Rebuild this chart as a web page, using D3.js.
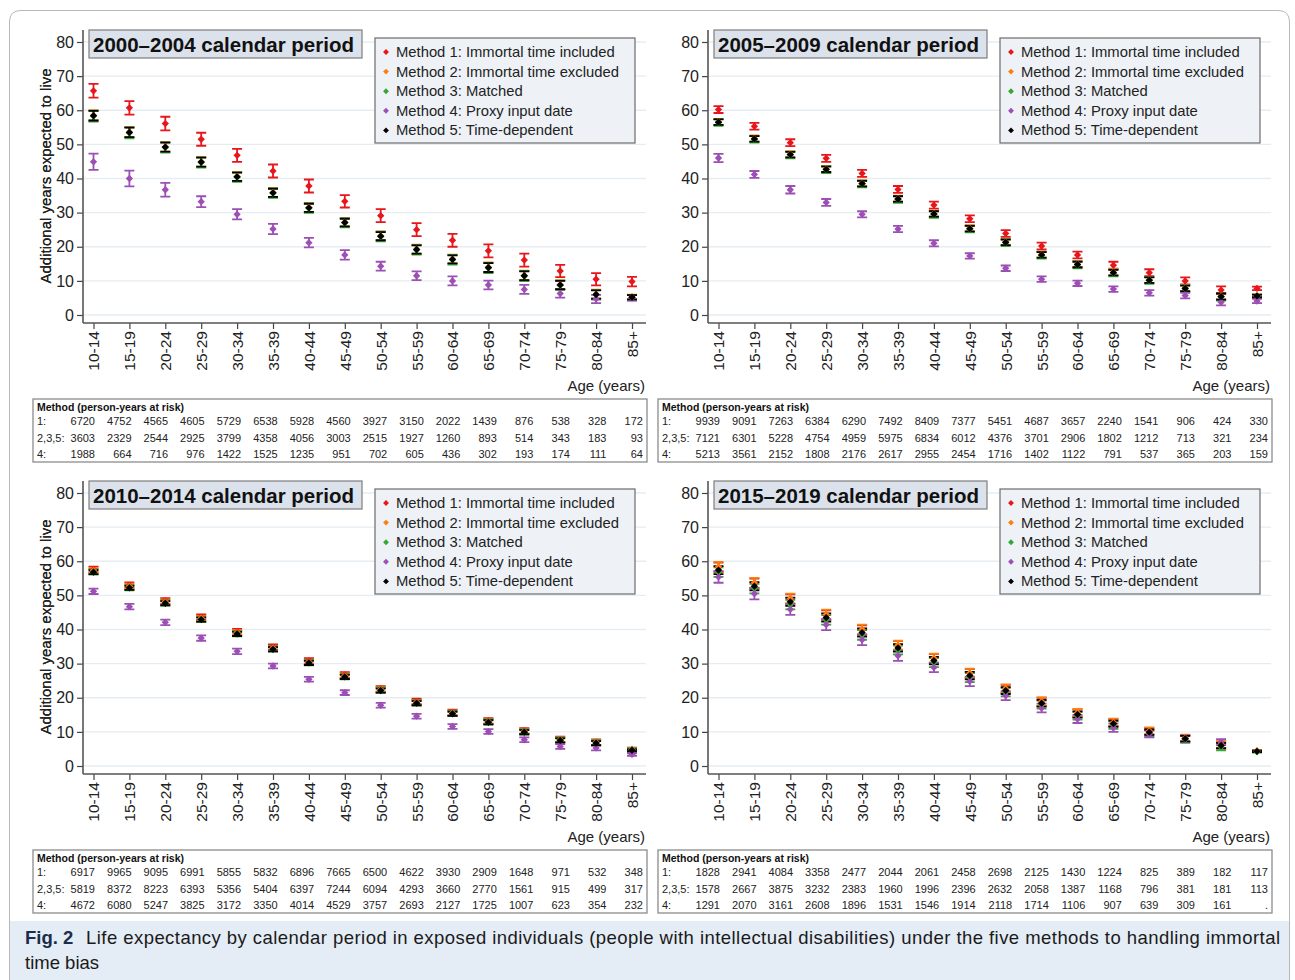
<!DOCTYPE html>
<html>
<head>
<meta charset="utf-8">
<script src="https://cdn.jsdelivr.net/npm/d3@7"></script>
<style>
  body { margin: 0; background: #fff; }
  svg { display: block; }
  text { font-family: "Liberation Sans", Arial, Helvetica, sans-serif; }
</style>
</head>
<body>
<svg id="fig" width="1295" height="980"></svg>
<script>
// ---- categories and labels ----
const ageGroups = ["10-14","15-19","20-24","25-29","30-34","35-39","40-44","45-49",
                   "50-54","55-59","60-64","65-69","70-74","75-79","80-84","85+"];
const methodLabels = ["Method 1: Immortal time included","Method 2: Immortal time excluded",
                      "Method 3: Matched","Method 4: Proxy input date","Method 5: Time-dependent"];
const methodColors = ["#e8161b","#ff7f0e","#38a636","#9c4fb4","#000000"];
const yTicks = [0,10,20,30,40,50,60,70,80];
const riskRowLabels = ["1:","2,3,5:","4:"];

// ---- 2000–2004: estimates and 95% CI half-widths ----
const est2000_m1 = [65.7,60.7,56.1,51.5,46.8,42.2,37.8,33.3,29.1,25.0,21.9,18.8,16.1,12.9,10.5,9.8];
const est2000_m2 = [58.5,53.6,49.3,44.9,40.6,35.9,31.5,27.2,23.2,19.3,16.4,14.0,11.6,8.9,6.1,5.3];
const est2000_m3 = [58.3,53.4,49.1,44.7,40.4,35.7,31.3,27.0,23.0,19.1,16.2,13.8,11.4,8.7,5.9,5.1];
const est2000_m4 = [44.9,40.0,36.7,33.2,29.5,25.2,21.2,17.6,14.3,11.5,10.0,8.8,7.5,6.3,4.7,5.0];
const est2000_m5 = [58.4,53.5,49.2,44.8,40.5,35.8,31.4,27.1,23.1,19.2,16.3,13.9,11.5,8.8,6.0,5.2];
const ci2000_m1  = [2.0,2.0,2.0,1.9,1.9,1.9,1.9,1.8,1.9,1.9,1.9,1.9,1.9,1.8,1.8,1.4];
const ci2000_m2  = [1.5,1.5,1.4,1.4,1.3,1.3,1.3,1.2,1.3,1.3,1.3,1.4,1.4,1.3,1.3,0.7];
const ci2000_m3  = [1.6,1.6,1.5,1.5,1.4,1.4,1.4,1.3,1.4,1.4,1.4,1.5,1.5,1.4,1.4,0.8];
const ci2000_m4  = [2.4,2.3,2.0,1.6,1.5,1.5,1.4,1.4,1.3,1.3,1.3,1.3,1.3,1.2,1.2,0.8];
const ci2000_m5  = [1.4,1.4,1.3,1.3,1.2,1.2,1.2,1.1,1.2,1.2,1.2,1.3,1.3,1.2,1.2,0.6];

// ---- 2005–2009 ----
const est2005_m1 = [60.2,55.3,50.5,45.9,41.5,36.8,32.2,28.2,23.9,20.2,17.6,14.6,12.4,10.0,7.3,7.8];
const est2005_m2 = [56.6,51.7,47.1,42.8,38.6,34.1,29.7,25.4,21.4,17.7,14.9,12.5,10.3,7.9,5.5,5.6];
const est2005_m3 = [56.4,51.5,46.9,42.6,38.4,33.9,29.5,25.2,21.2,17.5,14.7,12.3,10.1,7.7,5.3,5.5];
const est2005_m4 = [46.0,41.2,36.7,33.0,29.5,25.2,21.0,17.3,13.7,10.5,9.3,7.6,6.5,5.7,3.7,4.1];
const est2005_m5 = [56.5,51.6,47.0,42.7,38.5,34.0,29.6,25.3,21.3,17.6,14.8,12.4,10.2,7.8,5.4,5.6];
const ci2005_m1  = [1.0,1.0,1.0,1.0,1.0,1.0,1.0,1.0,1.0,1.0,1.0,1.0,1.0,1.0,1.1,0.5];
const ci2005_m2  = [0.9,0.9,0.9,0.9,0.9,0.9,0.9,0.9,0.9,0.9,0.9,0.9,0.9,0.9,1.0,0.4];
const ci2005_m3  = [1.0,1.0,1.0,1.0,1.0,1.0,1.0,1.0,1.0,1.0,1.0,1.0,1.0,1.0,1.1,0.5];
const ci2005_m4  = [1.2,1.0,1.1,1.0,0.9,0.9,0.9,0.8,0.8,0.8,0.8,0.8,0.8,0.8,0.9,0.6];
const ci2005_m5  = [0.8,0.8,0.8,0.8,0.8,0.8,0.8,0.8,0.8,0.8,0.8,0.8,0.8,0.8,0.9,0.4];

// ---- 2010–2014 ----
const est2010_m1 = [57.6,53.0,48.4,43.6,39.4,34.8,30.8,26.7,22.6,18.9,15.7,13.2,10.3,7.8,7.0,4.9];
const est2010_m2 = [57.3,52.7,48.1,43.3,39.1,34.5,30.5,26.4,22.4,18.7,15.5,13.0,10.1,7.7,6.9,4.8];
const est2010_m3 = [56.9,52.3,47.8,43.0,38.8,34.3,30.3,26.2,22.2,18.5,15.4,12.9,10.0,7.6,6.8,4.7];
const est2010_m4 = [51.2,46.7,42.1,37.5,33.6,29.3,25.4,21.5,17.8,14.6,11.6,10.1,7.7,5.7,5.3,3.4];
const est2010_m5 = [56.8,52.2,47.7,42.9,38.7,34.2,30.2,26.1,22.1,18.4,15.3,12.8,9.9,7.5,6.7,4.6];
const ci2010_m1  = [0.8,0.8,0.8,0.8,0.8,0.8,0.8,0.8,0.8,0.8,0.8,0.8,0.8,0.8,0.8,0.5];
const ci2010_m2  = [0.7,0.7,0.7,0.7,0.7,0.7,0.7,0.7,0.7,0.7,0.7,0.7,0.7,0.7,0.7,0.4];
const ci2010_m3  = [0.8,0.8,0.8,0.8,0.8,0.8,0.8,0.8,0.8,0.8,0.8,0.8,0.8,0.8,0.8,0.5];
const ci2010_m4  = [0.8,0.8,0.8,0.8,0.8,0.7,0.7,0.7,0.7,0.7,0.7,0.7,0.7,0.7,0.7,0.4];
const ci2010_m5  = [0.6,0.6,0.6,0.6,0.6,0.6,0.6,0.6,0.6,0.6,0.6,0.6,0.6,0.6,0.6,0.3];

// ---- 2015–2019 ----
const est2015_m1 = [58.2,53.5,48.9,44.2,39.8,35.3,31.5,27.1,22.6,18.8,15.5,12.7,10.2,8.1,6.2,4.4];
const est2015_m2 = [58.4,53.7,49.1,44.4,40.0,35.4,31.6,27.2,22.7,18.9,15.6,12.8,10.3,8.2,6.3,4.4];
const est2015_m3 = [56.8,52.0,47.3,42.8,38.4,34.0,30.3,25.9,21.6,18.0,14.7,12.0,9.6,7.8,5.6,4.2];
const est2015_m4 = [55.4,50.5,45.9,41.4,37.0,32.3,28.9,24.8,20.6,17.0,13.8,11.2,9.4,8.0,7.0,null];
const est2015_m5 = [57.4,52.7,48.1,43.5,39.1,34.6,30.9,26.5,22.1,18.4,15.1,12.4,9.9,8.0,6.0,4.3];
const ci2015_m1  = [1.4,1.4,1.4,1.4,1.4,1.3,1.3,1.3,1.2,1.2,1.1,1.1,1.0,1.0,1.0,0.3];
const ci2015_m2  = [1.4,1.4,1.4,1.4,1.4,1.3,1.3,1.3,1.2,1.2,1.1,1.1,1.0,1.0,1.0,0.3];
const ci2015_m3  = [1.4,1.4,1.4,1.4,1.4,1.3,1.3,1.3,1.2,1.2,1.1,1.1,1.0,1.0,1.0,0.3];
const ci2015_m4  = [1.7,1.7,1.6,1.6,1.6,1.5,1.4,1.4,1.3,1.3,1.2,1.2,1.0,1.0,0.9,null];
const ci2015_m5  = [1.2,1.2,1.2,1.2,1.2,1.1,1.1,1.1,1.0,1.0,0.9,0.9,0.8,0.8,0.8,0.2];

// ---- person-years at risk ----
const risk2000_m1  = [6720,4752,4565,4605,5729,6538,5928,4560,3927,3150,2022,1439,876,538,328,172];
const risk2000_m235= [3603,2329,2544,2925,3799,4358,4056,3003,2515,1927,1260,893,514,343,183,93];
const risk2000_m4  = [1988,664,716,976,1422,1525,1235,951,702,605,436,302,193,174,111,64];
const risk2005_m1  = [9939,9091,7263,6384,6290,7492,8409,7377,5451,4687,3657,2240,1541,906,424,330];
const risk2005_m235= [7121,6301,5228,4754,4959,5975,6834,6012,4376,3701,2906,1802,1212,713,321,234];
const risk2005_m4  = [5213,3561,2152,1808,2176,2617,2955,2454,1716,1402,1122,791,537,365,203,159];
const risk2010_m1  = [6917,9965,9095,6991,5855,5832,6896,7665,6500,4622,3930,2909,1648,971,532,348];
const risk2010_m235= [5819,8372,8223,6393,5356,5404,6397,7244,6094,4293,3660,2770,1561,915,499,317];
const risk2010_m4  = [4672,6080,5247,3825,3172,3350,4014,4529,3757,2693,2127,1725,1007,623,354,232];
const risk2015_m1  = [1828,2941,4084,3358,2477,2044,2061,2458,2698,2125,1430,1224,825,389,182,117];
const risk2015_m235= [1578,2667,3875,3232,2383,1960,1996,2396,2632,2058,1387,1168,796,381,181,113];
const risk2015_m4  = [1291,2070,3161,2608,1896,1531,1546,1914,2118,1714,1106,907,639,309,161,null];

const panels = [
  { title: "2000\u20132004 calendar period", col: 0, row: 0,
    est: [est2000_m1,est2000_m2,est2000_m3,est2000_m4,est2000_m5],
    ci:  [ci2000_m1,ci2000_m2,ci2000_m3,ci2000_m4,ci2000_m5],
    risk:[risk2000_m1,risk2000_m235,risk2000_m4] },
  { title: "2005\u20132009 calendar period", col: 1, row: 0,
    est: [est2005_m1,est2005_m2,est2005_m3,est2005_m4,est2005_m5],
    ci:  [ci2005_m1,ci2005_m2,ci2005_m3,ci2005_m4,ci2005_m5],
    risk:[risk2005_m1,risk2005_m235,risk2005_m4] },
  { title: "2010\u20132014 calendar period", col: 0, row: 1,
    est: [est2010_m1,est2010_m2,est2010_m3,est2010_m4,est2010_m5],
    ci:  [ci2010_m1,ci2010_m2,ci2010_m3,ci2010_m4,ci2010_m5],
    risk:[risk2010_m1,risk2010_m235,risk2010_m4] },
  { title: "2015\u20132019 calendar period", col: 1, row: 1,
    est: [est2015_m1,est2015_m2,est2015_m3,est2015_m4,est2015_m5],
    ci:  [ci2015_m1,ci2015_m2,ci2015_m3,ci2015_m4,ci2015_m5],
    risk:[risk2015_m1,risk2015_m235,risk2015_m4] }
];

const svg = d3.select("#fig");

// outer frame and caption band
svg.append("path")
  .attr("d", "M9.5,990 V22 Q9.5,10.5 21,10.5 H1278 Q1289.5,10.5 1289.5,22 V990")
  .attr("fill", "none").attr("stroke", "#b8b8b8").attr("stroke-width", 1);
svg.append("rect").attr("x", 10).attr("y", 921).attr("width", 1279).attr("height", 60)
  .attr("fill", "#e4ecf5");
const capFont = "'Noto Sans', 'Liberation Sans', Arial, sans-serif";
const cap = svg.append("text").attr("x", 25).attr("y", 944)
  .attr("font-size", 18.5).attr("fill", "#1a1a1a").attr("font-family", capFont);
cap.append("tspan").attr("font-weight", "bold").attr("fill", "#1b2d4a").text("Fig. 2");
cap.append("tspan").attr("x", 86).attr("textLength", 1194).attr("lengthAdjust", "spacing")
  .text("Life expectancy by calendar period in exposed individuals (people with intellectual disabilities) under the five methods to handling immortal");
svg.append("text").attr("x", 25).attr("y", 969).attr("font-size", 18.5).attr("fill", "#1a1a1a")
  .attr("font-family", capFont)
  .text("time bias");

const diamond = d3.symbol().type(d3.symbolDiamond2);

panels.forEach(p => {
  const ax = p.col === 0 ? 83 : 708;   // y-axis x position
  const dy = p.row === 0 ? 0 : 451;    // vertical offset of the row
  const plotRight = ax + 563;
  const axisY = 323 + dy;

  const x = d3.scalePoint().domain(ageGroups).range([ax + 10.5, ax + 549]);
  const y = d3.scaleLinear().domain([0, 80]).range([315 + dy, 42 + dy]);

  const g = svg.append("g");

  // gridlines
  g.append("g").selectAll("line").data(yTicks).join("line")
    .attr("x1", ax).attr("x2", plotRight)
    .attr("y1", d => y(d)).attr("y2", d => y(d))
    .attr("stroke", "#e6edf2").attr("stroke-width", 1.3);

  // y axis
  const yAxis = g.append("g").attr("transform", `translate(${ax},0)`)
    .call(d3.axisLeft(y).tickValues(yTicks).tickSize(6).tickPadding(3));
  yAxis.select(".domain").remove();
  yAxis.selectAll(".tick line").attr("stroke", "#444").attr("stroke-width", 1.2);
  yAxis.selectAll(".tick text").attr("font-size", 16).attr("fill", "#222")
    .attr("font-family", "'Liberation Sans', Arial, sans-serif");
  g.append("line").attr("x1", ax).attr("x2", ax).attr("y1", 30 + dy).attr("y2", axisY)
    .attr("stroke", "#555").attr("stroke-width", 1.6);

  // x axis
  const xAxis = g.append("g").attr("transform", `translate(0,${axisY})`)
    .call(d3.axisBottom(x).tickSize(6));
  xAxis.select(".domain").remove();
  xAxis.selectAll(".tick line").attr("stroke", "#444").attr("stroke-width", 1.2);
  xAxis.selectAll(".tick text")
    .attr("transform", "rotate(-90)")
    .attr("x", -8).attr("y", 0).attr("dy", "0.35em")
    .attr("text-anchor", "end")
    .attr("font-size", 15.5).attr("fill", "#222")
    .attr("font-family", "'Liberation Sans', Arial, sans-serif");
  g.append("line").attr("x1", ax).attr("x2", plotRight).attr("y1", axisY).attr("y2", axisY)
    .attr("stroke", "#555").attr("stroke-width", 1.6);

  // axis titles
  g.append("text")
    .attr("transform", `translate(51,${176 + dy}) rotate(-90)`)
    .attr("text-anchor", "middle").attr("font-size", 15).attr("fill", "#222")
    .text("Additional years expected to live");
  g.append("text").attr("x", ax + 562).attr("y", 391 + dy)
    .attr("text-anchor", "end").attr("font-size", 15).attr("fill", "#222")
    .text("Age (years)");

  // panel title box
  g.append("rect").attr("x", ax + 6).attr("y", 30 + dy).attr("width", 273).attr("height", 28)
    .attr("fill", "#dbe2eb").attr("stroke", "#7d7d7d").attr("stroke-width", 1.2);
  g.append("text").attr("x", ax + 10).attr("y", 51.5 + dy)
    .attr("font-size", 20.5).attr("font-weight", "bold").attr("fill", "#111")
    .text(p.title);

  // error bars (drawn in method order), then markers on top
  p.est.forEach((vals, m) => {
    const pts = ageGroups.map((a, i) => ({ a, v: vals[i], c: p.ci[m][i] }))
      .filter(d => d.v != null);
    const eb = g.append("g").attr("stroke", methodColors[m]).attr("stroke-width", 1.8)
      .attr("fill", "none");
    eb.selectAll("path").data(pts).join("path")
      .attr("d", d => {
        const cx = x(d.a), y1 = y(d.v + d.c), y2 = y(d.v - d.c);
        return `M${cx - 5},${y1}H${cx + 5}M${cx},${y1}V${y2}M${cx - 5},${y2}H${cx + 5}`;
      });
  });
  p.est.forEach((vals, m) => {
    const pts = ageGroups.map((a, i) => ({ a, v: vals[i] })).filter(d => d.v != null);
    g.append("g").selectAll("path").data(pts).join("path")
      .attr("transform", d => `translate(${x(d.a)},${y(d.v)})`)
      .attr("d", diamond.size(34)())
      .attr("fill", methodColors[m]);
  });

  // legend
  const lg = g.append("g");
  lg.append("rect").attr("x", ax + 292).attr("y", 38 + dy).attr("width", 260).attr("height", 105)
    .attr("fill", "#eef2f7").attr("stroke", "#6b6b6b").attr("stroke-width", 1.2);
  methodLabels.forEach((lab, m) => {
    const ly = 52 + dy + m * 19.6;
    lg.append("path").attr("transform", `translate(${ax + 303},${ly})`)
      .attr("d", diamond.size(22)()).attr("fill", methodColors[m]);
    lg.append("text").attr("x", ax + 313).attr("y", ly + 5)
      .attr("font-size", 14.8).attr("fill", "#222").text(lab);
  });

  // person-years at risk table
  const tx = ax - 50, ty = 399 + dy;
  const tg = g.append("g");
  tg.append("rect").attr("x", tx).attr("y", ty).attr("width", 614).attr("height", 63)
    .attr("fill", "#fff").attr("stroke", "#8c8c8c").attr("stroke-width", 1.3);
  tg.append("text").attr("x", tx + 4).attr("y", ty + 12)
    .attr("font-size", 10.5).attr("font-weight", "bold").attr("fill", "#111")
    .text("Method (person-years at risk)");
  const rowY = [ty + 26, ty + 42.5, ty + 59];
  p.risk.forEach((row, r) => {
    tg.append("text").attr("x", tx + 4).attr("y", rowY[r])
      .attr("font-size", 11).attr("fill", "#222").text(riskRowLabels[r]);
    tg.append("g").selectAll("text").data(row).join("text")
      .attr("x", (d, i) => ax + 12 + i * 36.53).attr("y", rowY[r])
      .attr("text-anchor", "end").attr("font-size", 11).attr("fill", "#222")
      .text(d => d == null ? "." : d);
  });
});
</script>
</body>
</html>
